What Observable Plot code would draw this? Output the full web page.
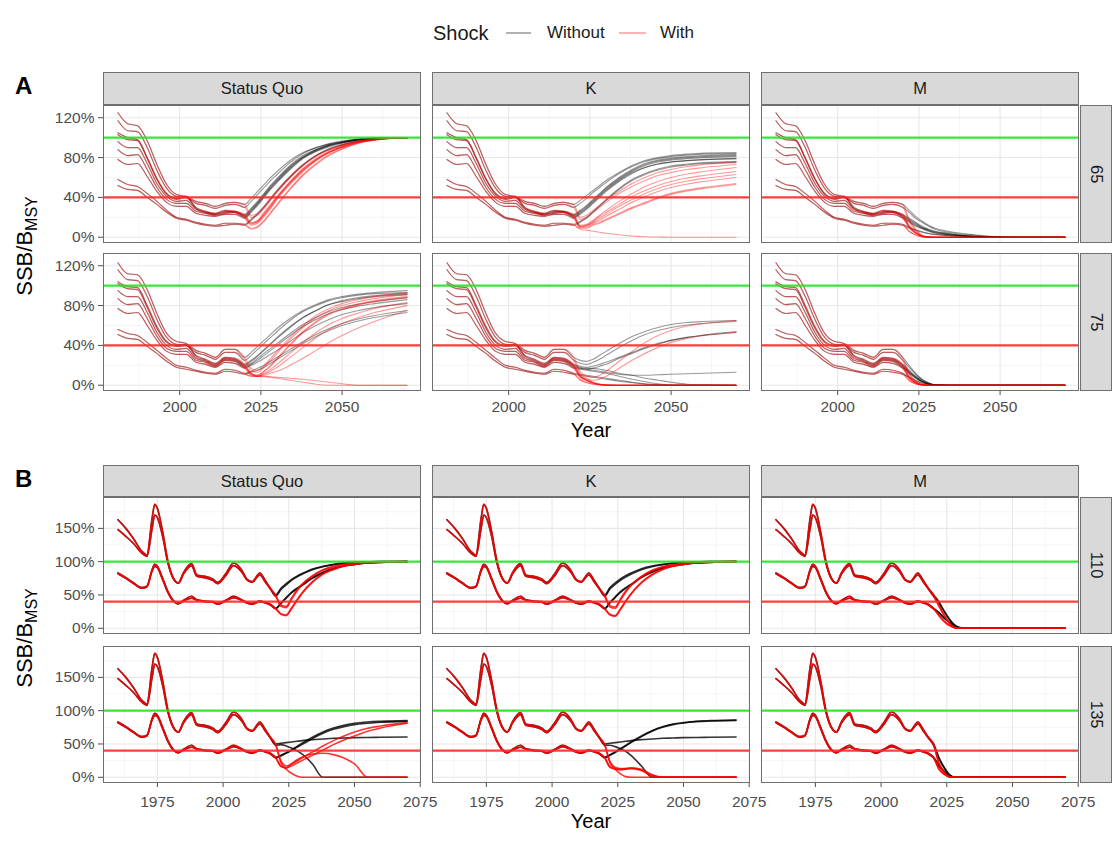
<!DOCTYPE html>
<html>
<head>
<meta charset="utf-8">
<script src="https://cdn.jsdelivr.net/npm/d3@7"></script>
<script src="https://cdn.jsdelivr.net/npm/@observablehq/plot@0.6"></script>
<style>
  body { margin: 0; background: #fff; font-family: "Liberation Sans", Arial, sans-serif; }
  #fig { position: relative; width: 1114px; height: 843px; overflow: hidden; background: #fff; }
  .abs { position: absolute; white-space: nowrap; }
  .strip { position: absolute; box-sizing: border-box; background: #d9d9d9; border: 1.3px solid #6f6f6f;
           display: flex; align-items: center; justify-content: center; font-size: 16.5px; color: #1a1a1a; }
  .stripR { writing-mode: vertical-rl; }
  .frame { position: absolute; box-sizing: border-box; border: 1.4px solid #6f6f6f; pointer-events: none; }
  .tag { font-size: 24px; font-weight: bold; color: #000; line-height: 1; }
  .axtitle { font-size: 20px; color: #000; line-height: 1; }
  .ytitle { font-size: 22px; color: #000; line-height: 1; }
  .legtext { font-size: 17px; color: #1a1a1a; line-height: 20px; }
</style>
</head>
<body>
<div id="fig"></div>
<script>
// ---------- categories ----------
const columns = ["Status Quo", "K", "M"];
const shockLevels = ["Without", "With"];
const rowsA = ["65", "75"];
const rowsB = ["110", "135"];

// ---------- reference levels (% of B_MSY) ----------
const targetLevel = 100;
const limitLevel = 40;

// ---------- tick labels ----------
const xTicksA = [2000, 2025, 2050];
const xMinorA = [1987.5, 2012.5, 2037.5, 2062.5];
const yTicksA = [0, 40, 80, 120];
const yMinorA = [20, 60, 100];
const xTicksB = [1975, 2000, 2025, 2050, 2075];
const xMinorB = [1962.5, 1987.5, 2012.5, 2037.5, 2062.5];
const yTicksB = [0, 50, 100, 150];
const yMinorB = [25, 75, 125, 175];

// ---------- years ----------
const histYearsA = [1981, 1984, 1987, 1990, 1993, 1996, 1999, 2002, 2005, 2008, 2011, 2014, 2017, 2020];
const histYearsB = [1960, 1963, 1966, 1969, 1971, 1973, 1974, 1975, 1977, 1979, 1981, 1983, 1985, 1988, 1990,
                    1993, 1996, 1998, 2001, 2004, 2007, 2009, 2011, 2014, 2016, 2018, 2020];
const projYears = [2022, 2024, 2026, 2028, 2030, 2034, 2038, 2042, 2046, 2050, 2055, 2060, 2070];

// ---------- A: historical SSB/B_MSY (%) ----------
const hist65 = [
  [125, 114, 112, 97, 73, 53, 43, 41, 36, 34, 31, 34, 35, 33],
  [117, 107, 106, 90, 67, 49, 41, 40, 34, 32, 29, 32, 33, 30],
  [105, 100, 98, 80, 59, 44, 39, 41, 30, 26, 24, 27, 26, 23],
  [103, 98, 97, 79, 58, 43, 38, 40, 29, 25, 23, 26, 25, 22],
  [96, 90, 90, 74, 54, 41, 36, 37, 28, 25, 23, 25, 26, 21],
  [88, 82, 83, 68, 50, 38, 34, 34, 26, 24, 22, 24, 25, 20],
  [78, 73, 74, 61, 46, 35, 31, 31, 24, 22, 21, 23, 23, 19],
  [58, 53, 51, 44, 36, 27, 20, 18, 15, 13, 12, 14, 14, 13],
  [52, 48, 47, 40, 33, 25, 19, 17, 14, 12, 11, 12, 13, 12]
];
const hist75 = [
  [123, 112, 111, 96, 72, 52, 44, 42, 35, 32, 28, 36, 36, 28],
  [116, 106, 105, 89, 66, 48, 41, 40, 33, 30, 26, 33, 33, 25],
  [104, 99, 98, 80, 59, 44, 40, 41, 30, 26, 22, 28, 27, 21],
  [102, 97, 96, 78, 57, 43, 39, 40, 29, 25, 21, 27, 26, 20],
  [95, 89, 89, 73, 53, 40, 36, 37, 27, 24, 20, 26, 25, 19],
  [87, 81, 82, 67, 49, 37, 34, 34, 25, 23, 19, 25, 24, 18],
  [77, 72, 73, 60, 45, 34, 31, 31, 23, 21, 18, 23, 22, 17],
  [56, 52, 50, 43, 35, 27, 20, 18, 15, 13, 12, 16, 15, 12],
  [51, 47, 46, 39, 32, 24, 18, 16, 14, 12, 11, 14, 13, 11]
];

// ---------- A: projections (%), row 65 ----------
const sq65Without = [
  [39, 46, 53, 60, 66, 77, 85, 90, 94, 96.5, 98.5, 99.5, 100],
  [36, 43, 50, 57, 63, 75, 84, 90, 93.5, 96, 98.5, 99.5, 100],
  [29, 36, 44, 52, 59, 72, 82, 88, 93, 95.5, 98, 99.5, 100],
  [28, 35, 43, 51, 58, 71, 81, 88, 92.5, 95.5, 98, 99.5, 100],
  [27, 34, 42, 50, 57, 70, 80, 87, 92, 95, 98, 99.5, 100],
  [26, 33, 41, 49, 56, 69, 80, 87, 92, 95, 98, 99.5, 100],
  [25, 32, 40, 48, 55, 68, 79, 86, 91, 94.5, 97.5, 99, 100],
  [18, 24, 31, 39, 47, 61, 73, 82, 89, 93, 96.5, 98.5, 100],
  [17, 23, 30, 38, 46, 60, 72, 82, 88, 92.5, 96.5, 98.5, 100]
];
const sq65With = [
  [22, 24, 31, 39, 47, 61, 73, 82, 88, 93, 96.5, 98.5, 100],
  [20, 22, 29, 37, 45, 60, 72, 81, 88, 92.5, 96.5, 98.5, 100],
  [15, 17, 25, 33, 41, 56, 69, 79, 86, 91.5, 96, 98, 100],
  [14, 16, 24, 32, 40, 55, 68, 78, 86, 91, 95.5, 98, 100],
  [14, 16, 23, 31, 40, 55, 68, 78, 85, 91, 95.5, 98, 100],
  [13, 15, 22, 30, 39, 54, 67, 77, 85, 90.5, 95.5, 98, 100],
  [12, 14, 21, 29, 38, 53, 66, 77, 85, 90, 95, 98, 100],
  [9, 11, 17, 25, 33, 49, 63, 74, 83, 89, 94.5, 97.5, 100],
  [8, 10, 16, 24, 32, 48, 62, 73, 82, 88.5, 94.5, 97.5, 100]
];
const k65Without = [
  [37, 42, 47, 52, 57, 65, 72, 77, 80, 82, 83.5, 84.5, 85],
  [34, 39, 45, 50, 55, 64, 71, 76, 79, 81, 82.5, 83.5, 84],
  [27, 32, 38, 44, 50, 60, 68, 74, 77.5, 79.5, 81, 82, 83],
  [26, 31, 37, 43, 49, 59, 67, 73, 76.5, 78.5, 80, 81, 82],
  [25, 30, 36, 42, 48, 58, 66, 72, 75.5, 77.5, 79, 80, 81],
  [24, 29, 35, 41, 47, 57, 65, 70, 73.5, 75.5, 77, 78, 79],
  [23, 28, 34, 40, 46, 56, 64, 70, 73.5, 75.5, 77, 78, 79],
  [16, 20, 26, 32, 38, 49, 58, 64, 68.5, 71.5, 73.5, 75, 76],
  [15, 19, 25, 31, 37, 48, 57, 63, 67.5, 70.5, 72.5, 74, 75]
];
const k65With = [
  [20, 22, 27, 32, 37, 46, 54, 60, 65, 68, 71, 73, 76],
  [18, 20, 25, 30, 35, 44, 51, 57, 62, 65, 68, 70, 73],
  [12, 13, 17, 22, 27, 36, 44, 51, 56, 60, 63.5, 66, 70],
  [11, 12, 16, 21, 25, 33, 41, 47, 52, 56, 59.5, 62, 66],
  [11, 12, 15, 19, 23, 31, 38, 44, 49, 53, 56.5, 59, 63],
  [10, 11, 14, 17, 21, 28, 35, 41, 46, 50, 53.5, 56, 60],
  [10, 10, 13, 15, 18, 24, 30, 35, 40, 44, 47.5, 50, 54],
  [8, 7, 6, 5, 4, 2.5, 1.2, 0.5, 0.2, 0, 0, 0, 0],
  [9, 9, 12, 14, 17, 23, 29, 34, 39, 43, 46.5, 49, 53]
];
const m65Without = [
  [27, 21, 16, 12, 9, 6, 4, 2.5, 1.2, 0.5, 0, 0, 0],
  [25, 19, 15, 11, 8, 5, 3, 2, 1, 0.3, 0, 0, 0],
  [19, 15, 11, 8, 6, 4, 2, 1, 0.5, 0, 0, 0, 0],
  [18, 14, 10, 7.5, 5.5, 3.5, 2, 1, 0.4, 0, 0, 0, 0],
  [17, 13, 9.5, 7, 5, 3, 1.8, 0.8, 0.3, 0, 0, 0, 0],
  [16, 12, 9, 6.5, 4.5, 2.8, 1.5, 0.7, 0.2, 0, 0, 0, 0],
  [15, 11, 8.5, 6, 4, 2.5, 1.3, 0.6, 0.2, 0, 0, 0, 0],
  [10, 7.5, 5.5, 4, 3, 1.8, 1, 0.4, 0, 0, 0, 0, 0],
  [9, 7, 5, 3.5, 2.5, 1.5, 0.8, 0.3, 0, 0, 0, 0, 0]
];
const m65With = [
  [18, 8, 2, 0.3, 0, 0, 0, 0, 0, 0, 0, 0, 0],
  [16, 7, 1.8, 0.3, 0, 0, 0, 0, 0, 0, 0, 0, 0],
  [12, 5, 1.2, 0.2, 0, 0, 0, 0, 0, 0, 0, 0, 0],
  [11, 5, 1, 0.2, 0, 0, 0, 0, 0, 0, 0, 0, 0],
  [11, 4.5, 1, 0.1, 0, 0, 0, 0, 0, 0, 0, 0, 0],
  [10, 4, 1, 0.1, 0, 0, 0, 0, 0, 0, 0, 0, 0],
  [10, 4, 0.8, 0, 0, 0, 0, 0, 0, 0, 0, 0, 0],
  [6, 2.5, 0.5, 0, 0, 0, 0, 0, 0, 0, 0, 0, 0],
  [6, 2, 0.4, 0, 0, 0, 0, 0, 0, 0, 0, 0, 0]
];

// ---------- A: projections (%), row 75 ----------
const sq75Without = [
  [33, 39, 45, 51, 57, 67, 75, 81, 86, 89, 91.5, 93, 95],
  [30, 36, 42, 48, 54, 65, 74, 80, 85, 88, 90.5, 92, 93],
  [25, 30, 36, 42, 48, 59, 68, 75, 81, 85, 88, 90, 92],
  [24, 29, 35, 41, 47, 58, 68, 75, 81, 84, 87, 89, 91],
  [22, 27, 32, 37, 42, 52, 61, 68, 74, 78, 81.5, 84, 88],
  [21, 25, 30, 35, 40, 50, 59, 66, 72, 76, 79.5, 82, 86],
  [20, 23, 27, 31, 35, 44, 53, 60, 66, 71, 75, 78, 82],
  [14, 17, 20, 24, 28, 36, 44, 51, 57, 62, 66.5, 70, 75],
  [13, 15, 18, 22, 26, 34, 42, 49, 55, 60, 64.5, 68, 73]
];
const sq75With = [
  [17, 15, 20, 27, 34, 48, 60, 70, 77, 82, 86, 89, 93],
  [15, 13, 18, 25, 32, 46, 58, 68, 75, 80, 84, 87, 91],
  [12, 10, 14, 20, 27, 41, 54, 64, 72, 77, 81.5, 85, 89],
  [12, 10, 14, 19, 26, 40, 53, 63, 71, 76, 80.5, 84, 88],
  [11, 9, 12, 16, 21, 32, 43, 53, 61, 67, 72.5, 77, 83],
  [11, 9, 11, 14, 18, 28, 38, 48, 56, 62, 68, 73, 80],
  [10, 9, 10, 12, 14, 20, 27, 35, 43, 50, 57.5, 64, 75],
  [9, 9, 8.5, 8, 7, 5, 3, 1, 0, 0, 0, 0, 0],
  [9, 9, 9, 8.5, 8, 7, 6, 4.5, 3, 1.5, 0, 0, 0]
];
const k75Without = [
  [25, 24, 26, 30, 34, 42, 49, 54, 58, 61, 63, 64, 65],
  [22, 21, 23, 26, 30, 38, 45, 51, 55, 58, 60.5, 62, 64],
  [19, 18, 19, 21, 23, 28, 33, 38, 42, 45, 48, 50, 53],
  [18, 17, 17, 16, 15, 12, 10, 7, 5, 3, 1, 0.3, 0],
  [17, 16, 17, 19, 21, 27, 32, 37, 41, 45, 48, 50.5, 54],
  [17, 16, 15, 14, 13, 11, 10, 10, 10.5, 11, 11.5, 12, 13],
  [16, 15, 14, 13, 12, 9, 6, 3.5, 1.5, 0.3, 0, 0, 0],
  [11, 10, 9, 8, 7, 5, 3, 1.5, 0.5, 0, 0, 0, 0],
  [10, 9, 8, 7, 6, 4, 2.5, 1, 0.3, 0, 0, 0, 0]
];
const k75With = [
  [14, 9, 8, 10, 14, 24, 34, 43, 50, 55, 59.5, 62, 65],
  [12, 7, 3, 1, 0.3, 0, 0, 0, 0, 0, 0, 0, 0],
  [10, 6, 5, 6, 9, 17, 25, 32, 38, 43, 47, 50, 53],
  [10, 5, 2.5, 1, 0.2, 0, 0, 0, 0, 0, 0, 0, 0],
  [9, 5, 2.5, 1, 0.2, 0, 0, 0, 0, 0, 0, 0, 0],
  [9, 5, 2.2, 0.8, 0.2, 0, 0, 0, 0, 0, 0, 0, 0],
  [8, 4.5, 2, 0.7, 0.1, 0, 0, 0, 0, 0, 0, 0, 0],
  [6, 3, 1.2, 0.4, 0, 0, 0, 0, 0, 0, 0, 0, 0],
  [5, 2.5, 1, 0.3, 0, 0, 0, 0, 0, 0, 0, 0, 0]
];
const m75Without = [
  [20, 12, 6, 2.5, 0.5, 0, 0, 0, 0, 0, 0, 0, 0],
  [18, 11, 5.5, 2, 0.4, 0, 0, 0, 0, 0, 0, 0, 0],
  [15, 9, 4.5, 1.8, 0.3, 0, 0, 0, 0, 0, 0, 0, 0],
  [14, 8.5, 4, 1.5, 0.3, 0, 0, 0, 0, 0, 0, 0, 0],
  [13, 8, 4, 1.5, 0.3, 0, 0, 0, 0, 0, 0, 0, 0],
  [13, 7.5, 3.5, 1.2, 0.2, 0, 0, 0, 0, 0, 0, 0, 0],
  [12, 7, 3.5, 1.2, 0.2, 0, 0, 0, 0, 0, 0, 0, 0],
  [8, 5, 2.5, 0.8, 0.1, 0, 0, 0, 0, 0, 0, 0, 0],
  [8, 4.5, 2, 0.7, 0.1, 0, 0, 0, 0, 0, 0, 0, 0]
];
const m75With = [
  [12, 4, 0.8, 0, 0, 0, 0, 0, 0, 0, 0, 0, 0],
  [11, 3.5, 0.7, 0, 0, 0, 0, 0, 0, 0, 0, 0, 0],
  [9, 3, 0.5, 0, 0, 0, 0, 0, 0, 0, 0, 0, 0],
  [8, 2.5, 0.5, 0, 0, 0, 0, 0, 0, 0, 0, 0, 0],
  [8, 2.5, 0.4, 0, 0, 0, 0, 0, 0, 0, 0, 0, 0],
  [7, 2.3, 0.4, 0, 0, 0, 0, 0, 0, 0, 0, 0, 0],
  [7, 2.2, 0.4, 0, 0, 0, 0, 0, 0, 0, 0, 0, 0],
  [5, 1.5, 0.3, 0, 0, 0, 0, 0, 0, 0, 0, 0, 0],
  [4.5, 1.4, 0.3, 0, 0, 0, 0, 0, 0, 0, 0, 0, 0]
];

// ---------- B: historical SSB/B_MSY (%) ----------
const histB = [
  [163, 150, 134, 116, 110, 165, 186, 180, 145, 101, 76, 68, 84, 97, 80, 78, 74, 69, 82, 98, 88, 74, 70, 83, 72, 60, 50],
  [148, 138, 127, 113, 108, 150, 170, 166, 138, 98, 75, 68, 82, 94, 78, 76, 72, 67, 79, 94, 85, 73, 69, 80, 70, 59, 48],
  [83, 76, 68, 61, 63, 88, 96, 93, 75, 55, 42, 37, 42, 48, 43, 41, 40, 37, 42, 48, 43, 39, 37, 41, 39, 36, 30],
  [82, 75, 67, 60, 62, 86, 93, 91, 73, 54, 41, 37, 41, 45, 42, 40, 39, 36, 41, 46, 42, 38, 36, 40, 38, 35, 29]
];

// ---------- B: projections (%), row 110 ----------
const sq110Without = [
  [60, 67, 73, 78, 82, 89, 93, 96, 98, 99, 99.6, 100, 100],
  [58, 65, 72, 77, 81, 88, 92.5, 95.5, 97.5, 98.8, 99.5, 100, 100],
  [38, 46, 54, 60, 65, 76, 84, 90, 94, 96, 98, 99, 100],
  [37, 45, 53, 59, 64, 75, 83, 89, 93.5, 96, 98, 99, 100]
];
const sq110With = [
  [35, 33, 45, 57, 66, 79, 88, 93, 96, 98, 99, 99.6, 100],
  [33, 31, 43, 55, 65, 78, 87, 92, 95.5, 97.5, 99, 99.6, 100],
  [22, 20, 30, 42, 53, 70, 82, 89, 94, 96.5, 98.5, 99.4, 100],
  [21, 19, 29, 41, 52, 69, 81, 88, 93, 96, 98.3, 99.3, 100]
];
const k110Without = [
  [61, 68, 74, 79, 83, 89.5, 93.5, 96, 98, 99, 99.6, 100, 100],
  [59, 66, 72, 77, 81, 88, 92.5, 95.5, 97.5, 98.8, 99.5, 100, 100],
  [39, 47, 55, 61, 66, 77, 85, 90.5, 94, 96.5, 98, 99, 100],
  [38, 46, 54, 60, 65, 76, 84, 90, 93.5, 96, 98, 99, 100]
];
const k110With = [
  [34, 32, 44, 56, 65, 78, 87, 92.5, 95.5, 97.5, 99, 99.6, 100],
  [32, 30, 42, 54, 64, 77, 86, 92, 95, 97.5, 99, 99.6, 100],
  [21, 19, 29, 41, 52, 69, 81, 88.5, 93.5, 96, 98.5, 99.4, 100],
  [20, 18, 28, 40, 51, 68, 80, 88, 93, 96, 98.3, 99.3, 100]
];
const m110Without = [
  [40, 26, 14, 5, 1, 0, 0, 0, 0, 0, 0, 0, 0],
  [38, 25, 13, 4.5, 0.8, 0, 0, 0, 0, 0, 0, 0, 0],
  [24, 16, 9, 3.5, 0.6, 0, 0, 0, 0, 0, 0, 0, 0],
  [23, 15, 8.5, 3.2, 0.5, 0, 0, 0, 0, 0, 0, 0, 0]
];
const m110With = [
  [35, 20, 8, 1.5, 0, 0, 0, 0, 0, 0, 0, 0, 0],
  [33, 19, 7.5, 1.3, 0, 0, 0, 0, 0, 0, 0, 0, 0],
  [20, 11, 4.5, 1, 0, 0, 0, 0, 0, 0, 0, 0, 0],
  [19, 10, 4, 0.9, 0, 0, 0, 0, 0, 0, 0, 0, 0]
];

// ---------- B: projections (%), row 135 ----------
const sq135Without = [
  [51, 52, 53, 54, 55, 56.5, 57.5, 58.5, 59, 59.5, 59.8, 60, 60.5],
  [49, 47, 44, 40, 35, 20, 0, 0, 0, 0, 0, 0, 0],
  [33, 37, 41, 46, 51, 60, 68, 74, 78, 81, 83, 84, 85],
  [32, 36, 40, 45, 49, 58, 66, 72, 76, 79, 81, 82.5, 84]
];
const sq135With = [
  [25, 17, 20, 24, 29, 38, 47, 55, 62, 68, 73.5, 77, 82],
  [22, 12, 6, 2, 0, 0, 0, 0, 0, 0, 0, 0, 0],
  [16, 14, 20, 26, 30, 35, 36, 34, 29, 20, 0, 0, 0],
  [17, 14, 17, 21, 25, 33, 41, 49, 56, 62, 69, 74, 81]
];
const k135Without = [
  [51, 52, 53, 54, 55, 56.5, 57.5, 58.5, 59, 59.5, 59.8, 60, 60.5],
  [48, 46, 43, 39, 33, 17, 0, 0, 0, 0, 0, 0, 0],
  [34, 38, 43, 48, 53, 62, 70, 76, 80, 82, 84, 85, 86],
  [33, 37, 42, 47, 52, 61, 69, 75, 79, 81.5, 83.5, 84.5, 85.5]
];
const k135With = [
  [22, 12, 5, 1, 0, 0, 0, 0, 0, 0, 0, 0, 0],
  [24, 15, 13, 13, 14, 12, 4, 0, 0, 0, 0, 0, 0],
  [16, 13, 12, 13, 14, 11, 3, 0, 0, 0, 0, 0, 0],
  [15, 12, 11, 12, 13, 10, 2, 0, 0, 0, 0, 0, 0]
];
const m135Without = [
  [30, 15, 4, 0, 0, 0, 0, 0, 0, 0, 0, 0, 0],
  [28, 14, 3.5, 0, 0, 0, 0, 0, 0, 0, 0, 0, 0],
  [18, 9, 2, 0, 0, 0, 0, 0, 0, 0, 0, 0, 0],
  [17, 8.5, 2, 0, 0, 0, 0, 0, 0, 0, 0, 0, 0]
];
const m135With = [
  [22, 8, 1, 0, 0, 0, 0, 0, 0, 0, 0, 0, 0],
  [20, 7, 1, 0, 0, 0, 0, 0, 0, 0, 0, 0, 0],
  [13, 5, 0.6, 0, 0, 0, 0, 0, 0, 0, 0, 0, 0],
  [12, 4.5, 0.5, 0, 0, 0, 0, 0, 0, 0, 0, 0, 0]
];

// ---------- layout ----------
const fig = document.getElementById("fig");
const colX = [103, 432, 761];
const panelW = 318;
const rightStripX = 1080, rightStripW = 32;
const FONT = '"Liberation Sans", Arial, sans-serif';

function el(cls, css, html) {
  const d = document.createElement("div");
  d.className = cls;
  Object.assign(d.style, css);
  if (html !== undefined) d.innerHTML = html;
  fig.appendChild(d);
  return d;
}

// One facet: shared history followed by each run's projection, Without drawn under With.
function panelPlot(o) {
  const rows = [];
  shockLevels.forEach(shock => {
    o.hist.forEach((h, i) => {
      const id = shock + "-" + i;
      o.histYears.forEach((yr, k) => rows.push({year: yr, ssb: h[k], id, shock}));
      projYears.forEach((yr, k) => rows.push({year: yr, ssb: o.proj[shock][i][k], id, shock}));
    });
  });
  const ml = o.showY ? 60 : 0;
  const mb = o.showX ? 30 : 0;
  const svg = Plot.plot({
    width: panelW + ml,
    height: o.H + mb,
    marginLeft: ml, marginRight: 0, marginTop: 0, marginBottom: mb,
    style: {background: "none", overflow: "visible", fontFamily: FONT, fontSize: "15.5px", color: "#4d4d4d"},
    x: {domain: o.xDomain, ticks: o.xTicks, tickFormat: d => String(d), tickSize: 4, tickPadding: o.tickPad,
        label: null, axis: o.showX ? "bottom" : null},
    y: {domain: o.yDomain, ticks: o.yTicks, tickFormat: d => d + "%", tickSize: 5, tickPadding: 4,
        label: null, axis: o.showY ? "left" : null},
    color: {domain: shockLevels, range: ["#000000", "#ff0000"]},
    marks: [
      Plot.ruleY(o.yMinor, {stroke: "#f3f3f3", strokeWidth: 0.8}),
      Plot.ruleX(o.xMinor, {stroke: "#f3f3f3", strokeWidth: 0.8}),
      Plot.ruleY(o.yTicks, {stroke: "#e8e8e8", strokeWidth: 1.1}),
      Plot.ruleX(o.xTicks, {stroke: "#e8e8e8", strokeWidth: 1.1}),
      Plot.line(rows, {x: "year", y: "ssb", z: "id", stroke: "shock", strokeOpacity: o.opacity,
                       strokeWidth: o.sw, curve: "monotone-x"}),
      Plot.ruleY([targetLevel], {stroke: "#22e622", strokeWidth: 2.2, strokeOpacity: 0.9}),
      Plot.ruleY([limitLevel], {stroke: "#ff2a2a", strokeWidth: 2.2, strokeOpacity: 0.9})
    ]
  });
  svg.style.position = "absolute";
  svg.style.left = (o.left - ml) + "px";
  svg.style.top = o.top + "px";
  fig.appendChild(svg);
  el("frame", {left: o.left + "px", top: o.top + "px", width: panelW + "px", height: o.H + "px"});
}

function drawFigure(f) {
  el("abs tag", {left: "15px", top: f.tagTop + "px"}, f.tag);
  columns.forEach((c, ci) => {
    el("strip", {left: colX[ci] + "px", top: f.stripTop + "px", width: panelW + "px", height: f.stripH + "px"}, c);
  });
  f.rows.forEach((r, ri) => {
    el("strip stripR", {left: rightStripX + "px", top: f.rowTops[ri] + "px", width: rightStripW + "px", height: f.H + "px"}, r);
    columns.forEach((c, ci) => {
      panelPlot({
        hist: f.hist[ri], histYears: f.histYears, proj: f.proj[ri][ci],
        left: colX[ci], top: f.rowTops[ri], H: f.H,
        showY: ci === 0, showX: ri === f.rows.length - 1,
        xDomain: f.xDomain, xTicks: f.xTicks, xMinor: f.xMinor,
        yDomain: f.yDomain, yTicks: f.yTicks, yMinor: f.yMinor,
        tickPad: f.tickPad, opacity: f.opacity, sw: f.sw
      });
    });
  });
  // axis titles
  const cx = (colX[0] + colX[2] + panelW) / 2;
  el("abs axtitle", {left: cx + "px", top: f.yearTop + "px", transform: "translateX(-50%)"}, "Year");
  el("abs ytitle", {left: "27px", top: f.yTitleCenter + "px", transform: "translate(-50%,-50%) rotate(-90deg)"},
     'SSB/B<sub style="font-size:16px;vertical-align:-5px">MSY</sub>');
}

drawFigure({
  tag: "A", tagTop: 74, stripTop: 72, stripH: 33, rowTops: [105, 253], H: 138,
  rows: rowsA, hist: [hist65, hist75], histYears: histYearsA,
  proj: [
    [{Without: sq65Without, With: sq65With}, {Without: k65Without, With: k65With}, {Without: m65Without, With: m65With}],
    [{Without: sq75Without, With: sq75With}, {Without: k75Without, With: k75With}, {Without: m75Without, With: m75With}]
  ],
  xDomain: [1976.55, 2074.45], xTicks: xTicksA, xMinor: xMinorA,
  yDomain: [-6.3, 132.3], yTicks: yTicksA, yMinor: yMinorA,
  tickPad: 5, yearTop: 420, yTitleCenter: 246, opacity: 0.4, sw: 1.15
});

drawFigure({
  tag: "B", tagTop: 467, stripTop: 465, stripH: 32, rowTops: [497, 646], H: 137,
  rows: rowsB, hist: [histB, histB], histYears: histYearsB,
  proj: [
    [{Without: sq110Without, With: sq110With}, {Without: k110Without, With: k110With}, {Without: m110Without, With: m110With}],
    [{Without: sq135Without, With: sq135With}, {Without: k135Without, With: k135With}, {Without: m135Without, With: m135With}]
  ],
  xDomain: [1954.5, 2075.5], xTicks: xTicksB, xMinor: xMinorB,
  yDomain: [-9.35, 196.35], yTicks: yTicksB, yMinor: yMinorB,
  tickPad: 8, yearTop: 811, yTitleCenter: 638, opacity: 0.8, sw: 1.6
});

// legend
el("abs", {left: "433px", top: "21px", fontSize: "20px", lineHeight: "24px", color: "#1a1a1a"}, "Shock");
el("abs", {left: "506px", top: "32px", width: "25px", height: "0", borderTop: "2px solid rgba(0,0,0,0.3)"});
el("abs legtext", {left: "547px", top: "23px"}, shockLevels[0]);
el("abs", {left: "619px", top: "32px", width: "27px", height: "0", borderTop: "2px solid rgba(255,0,0,0.3)"});
el("abs legtext", {left: "660px", top: "23px"}, shockLevels[1]);
</script>
</body>
</html>
